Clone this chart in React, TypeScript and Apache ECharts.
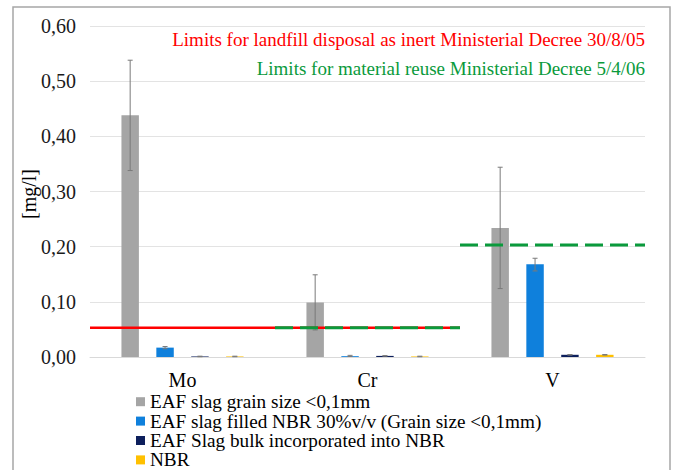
import React, { useEffect, useRef } from "react";
import * as echarts from "echarts";

const categories = ["Mo", "Cr", "V"];
const seriesNames = [
  "EAF slag grain size <0,1mm",
  "EAF slag filled NBR 30%v/v (Grain size <0,1mm)",
  "EAF Slag bulk incorporated into NBR",
  "NBR",
];
const grayValues = [0.438, 0.099, 0.234];
const blueValues = [0.017, 0.0015, 0.168];
const navyValues = [0.001, 0.002, 0.004];
const yellowValues = [0.001, 0.001, 0.004];
const grayErrLow = [0.338, 0.049, 0.124];
const grayErrHigh = [0.538, 0.149, 0.344];
const blueErrLow = [0.015, 0.001, 0.156];
const blueErrHigh = [0.019, 0.003, 0.179];
const navyErrLow = [0.0005, 0.0015, 0.0035];
const navyErrHigh = [0.0015, 0.0025, 0.0045];
const yellowErrLow = [0.0005, 0.0005, 0.0035];
const yellowErrHigh = [0.0015, 0.0015, 0.0045];
// limit lines: [fromCategoryBoundary, toCategoryBoundary, value]
const landfillLimit = [[0, 2, 0.053]];
const reuseLimits = [
  [1, 2, 0.053],
  [2, 3, 0.203],
];
const yName = "[mg/l]";
const landfillText = "Limits for landfill disposal as inert Ministerial Decree 30/8/05";
const reuseText = "Limits for material reuse Ministerial Decree 5/4/06";

const colors = ["#a5a5a5", "#0f80dc", "#0d1f5c", "#ffc000"];
const FONT = "Liberation Serif";
const CAT_GAP = 0.34;

export default function App() {
  const ref = useRef<HTMLDivElement>(null);
  useEffect(() => {
    const chart = echarts.init(ref.current!, null, { renderer: "svg" });
    const values = [grayValues, blueValues, navyValues, yellowValues];
    const lows = [grayErrLow, blueErrLow, navyErrLow, yellowErrLow];
    const highs = [grayErrHigh, blueErrHigh, navyErrHigh, yellowErrHigh];

    const errData: number[][] = [];
    lows.forEach((lo, si) => {
      lo.forEach((l, ci) => errData.push([ci, l, highs[si][ci], si]));
    });

    const barSeries = values.map((v, i) => ({
      name: seriesNames[i],
      type: "bar",
      data: v,
      barGap: "100%",
      barCategoryGap: "34%",
      itemStyle: { color: colors[i] },
      xAxisIndex: 0,
      yAxisIndex: 0,
    }));

    const lineFrom = (arr: number[][]) => {
      const d: any[] = [];
      arr.forEach((s, k) => {
        if (k > 0) d.push(null);
        d.push([s[0], s[2]]);
        d.push([s[1], s[2]]);
      });
      return d;
    };

    chart.setOption({
      animation: false,
      textStyle: { fontFamily: FONT },
      grid: { left: 90, right: 31, top: 26, bottom: 113 },
      legend: {
        data: seriesNames,
        orient: "vertical",
        left: 136,
        top: 392,
        height: 150,
        padding: 0,
        itemWidth: 9,
        itemHeight: 9,
        itemGap: 0,
        icon: "rect",
        textStyle: { fontFamily: FONT, fontSize: 19.2, color: "#000", lineHeight: 19.4 },
      },
      xAxis: [
        {
          type: "category",
          data: categories,
          axisLine: { lineStyle: { color: "#d9d9d9" } },
          axisTick: { show: false },
          axisLabel: { fontFamily: FONT, fontSize: 20, color: "#000", margin: 13 },
        },
        {
          type: "value",
          min: 0,
          max: 3,
          show: false,
        },
      ],
      yAxis: {
        type: "value",
        min: 0,
        max: 0.6,
        interval: 0.1,
        axisLine: { show: false },
        axisTick: { show: false },
        splitLine: { lineStyle: { color: "#e3e3e3" } },
        axisLabel: {
          fontFamily: FONT,
          fontSize: 20,
          color: "#1a1a1a",
          margin: 14,
          formatter: (v: number) => v.toFixed(2).replace(".", ","),
        },
      },
      series: [
        ...barSeries,
        {
          type: "custom",
          xAxisIndex: 0,
          yAxisIndex: 0,
          z: 5,
          data: errData,
          renderItem: (params: any, api: any) => {
            const ci = api.value(0);
            const lo = api.coord([ci, api.value(1)]);
            const hi = api.coord([ci, api.value(2)]);
            const si = api.value(3);
            const band = api.size([1, 0])[0];
            const w = (band * (1 - CAT_GAP)) / 7;
            const x = lo[0] + (si - 1.5) * 2 * w;
            const cap = 2.5;
            const style = { stroke: "#7a7a7a", lineWidth: 1 };
            return {
              type: "group",
              children: [
                { type: "line", shape: { x1: x, y1: lo[1], x2: x, y2: hi[1] }, style },
                { type: "line", shape: { x1: x - cap, y1: lo[1], x2: x + cap, y2: lo[1] }, style },
                { type: "line", shape: { x1: x - cap, y1: hi[1], x2: x + cap, y2: hi[1] }, style },
              ],
            };
          },
        },
        {
          type: "line",
          xAxisIndex: 1,
          yAxisIndex: 0,
          data: lineFrom(landfillLimit),
          symbol: "none",
          z: 6,
          lineStyle: { color: "#ff0000", width: 2.5 },
        },
        {
          type: "line",
          xAxisIndex: 1,
          yAxisIndex: 0,
          data: lineFrom(reuseLimits),
          symbol: "none",
          connectNulls: false,
          z: 7,
          lineStyle: { color: "#0a9a3c", width: 3, type: [18, 7] },
        },
      ],
      graphic: [
        {
          type: "rect",
          shape: { x: 13, y: 7, width: 657, height: 480 },
          style: { fill: "none", stroke: "#a6a6a6", lineWidth: 1.5 },
          silent: true,
        },
        {
          type: "text",
          x: 29,
          y: 194,
          rotation: Math.PI / 2,
          style: {
            text: yName,
            fill: "#000",
            fontFamily: FONT,
            fontSize: 20,
            align: "center",
            verticalAlign: "middle",
          },
        },
        {
          type: "text",
          right: 31,
          top: 30,
          style: { text: landfillText, fill: "#ff0000", fontFamily: FONT, fontSize: 19 },
        },
        {
          type: "text",
          right: 31,
          top: 59,
          style: { text: reuseText, fill: "#0a9a3c", fontFamily: FONT, fontSize: 19 },
        },
      ],
    });
    return () => chart.dispose();
  }, []);
  return (
    <div
      ref={ref}
      style={{ position: "absolute", left: 0, top: 0, width: 676, height: 470, background: "#fff" }}
    />
  );
}
